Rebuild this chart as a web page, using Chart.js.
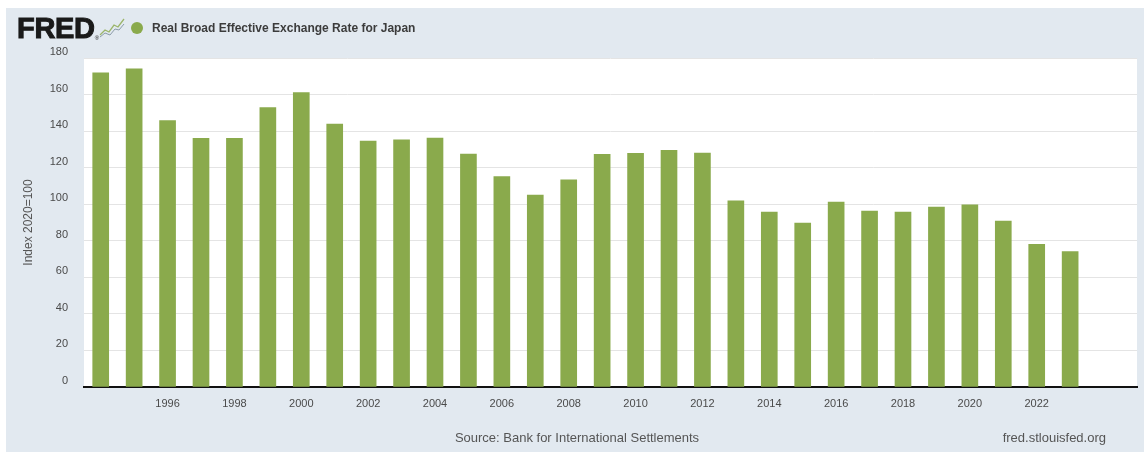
<!DOCTYPE html>
<html>
<head>
<meta charset="utf-8">
<script src="https://cdn.jsdelivr.net/npm/chart.js@4/dist/chart.umd.min.js"></script>
<style>
  html, body { margin: 0; padding: 0; background: #ffffff; }
  body { width: 1144px; height: 454px; position: relative; overflow: hidden;
         font-family: "Liberation Sans", Arial, sans-serif; }
  #panel { position: absolute; left: 6px; top: 8px; width: 1138px; height: 444px; background: #e2e9f0; }
  #wrap { position: absolute; left: 0; top: 0; width: 1144px; height: 454px; }
  .logo { position: absolute; left: 17px; top: 11px; font-size: 29px; font-weight: 700;
          color: #1a1a1a; letter-spacing: -0.3px; line-height: 34px;
          -webkit-text-stroke: 1px #1a1a1a; }
  .logo sup { font-size: 6px; font-weight: 400; -webkit-text-stroke: 0; position: relative; top: 2px; vertical-align: baseline; }
  .icon { position: absolute; left: 99px; top: 16px; }
  .dot { position: absolute; left: 131px; top: 22px; width: 12px; height: 12px; border-radius: 50%; background: #8aaa4c; }
  .legend { position: absolute; left: 152px; top: 20px; font-size: 12px; font-weight: 700; color: #3c3c3c; line-height: 16px; }
  .source { position: absolute; left: 0; width: 1154px; top: 430px; text-align: center; font-size: 13px; color: #555; line-height: 16px; }
  .site { position: absolute; right: 38px; top: 430px; font-size: 13px; color: #555; line-height: 16px; }
</style>
</head>
<body>
<div id="panel"></div>
<div id="wrap"><canvas id="chart" width="1144" height="454"></canvas></div>
<div class="logo">FRED<sup>®</sup></div>
<svg class="icon" width="26" height="22" viewBox="0 0 26 22">
  <polyline points="1,19 6,14 10,16 15,9 19,11 25,3" fill="none" stroke="#9bb56a" stroke-width="1.3"/>
  <polyline points="1,21 6,17 11,19 16,13 20,14 25,8" fill="none" stroke="#8a9aa8" stroke-width="1"/>
</svg>
<div class="dot"></div>
<div class="legend">Real Broad Effective Exchange Rate for Japan</div>
<div class="source">Source: Bank for International Settlements</div>
<div class="site">fred.stlouisfed.org</div>
<script>
// Annual observations, index 2020=100
const years = [1994, 1995, 1996, 1997, 1998, 1999, 2000, 2001, 2002, 2003,
               2004, 2005, 2006, 2007, 2008, 2009, 2010, 2011, 2012, 2013,
               2014, 2015, 2016, 2017, 2018, 2019, 2020, 2021, 2022, 2023];
const rateIndex = [171.9, 174.1, 145.8, 136.1, 136.1, 152.9, 161.1, 143.9, 134.6, 135.2,
                   136.2, 127.4, 115.1, 105.0, 113.4, 127.3, 127.9, 129.5, 128.0, 101.9,
                   95.7, 89.7, 101.2, 96.3, 95.7, 98.5, 99.7, 90.8, 78.0, 74.1];
const xTickYears = [1996, 1998, 2000, 2002, 2004, 2006, 2008, 2010, 2012, 2014,
                    2016, 2018, 2020, 2022];
const yTickValues = [0, 20, 40, 60, 80, 100, 120, 140, 160, 180];

const seriesName = 'Real Broad Effective Exchange Rate for Japan';
const barColor = '#8aaa4c';

// White plotting area behind the bars
const plotBackground = {
  id: 'plotBackground',
  beforeDraw(chart) {
    const { ctx, chartArea: a } = chart;
    ctx.save();
    ctx.fillStyle = '#ffffff';
    ctx.fillRect(a.left, a.top, a.right - a.left, a.bottom - a.top);
    ctx.restore();
  }
};

const tickFont = { family: '"Liberation Sans", Arial, sans-serif', size: 11 };

new Chart(document.getElementById('chart'), {
  type: 'bar',
  data: {
    datasets: [{
      label: seriesName,
      data: years.map((y, i) => ({ x: y, y: rateIndex[i] })),
      backgroundColor: barColor,
      borderWidth: 0,
      barThickness: 16
    }]
  },
  options: {
    responsive: false,
    animation: false,
    layout: { padding: { top: 58, right: 7, left: 0, bottom: 0 } },
    plugins: { legend: { display: false }, tooltip: { enabled: false } },
    scales: {
      x: {
        type: 'linear',
        offset: false,
        min: 1993.5,
        max: 2025,
        afterBuildTicks: s => { s.ticks = xTickYears.map(v => ({ value: v })); },
        afterFit: s => { s.height = 67; },
        ticks: {
          callback: v => String(v),
          font: tickFont,
          color: '#4a4a4a',
          padding: 10,
          maxRotation: 0,
          autoSkip: false
        },
        grid: { display: false, drawTicks: false },
        border: { display: true, color: '#111111', width: 2 }
      },
      y: {
        min: 0,
        max: 180,
        afterBuildTicks: s => { s.ticks = yTickValues.map(v => ({ value: v })); },
        afterFit: s => { s.width = 84; },
        ticks: {
          font: tickFont,
          color: '#4a4a4a',
          padding: 16,
          labelOffset: -6
        },
        grid: { color: '#e4e4e4', lineWidth: 1, drawTicks: false },
        border: { display: false },
        title: {
          display: true,
          text: 'Index 2020=100',
          color: '#555555',
          font: { family: '"Liberation Sans", Arial, sans-serif', size: 12 },
          padding: { top: 21, bottom: 0 }
        }
      }
    }
  },
  plugins: [plotBackground]
});
</script>
</body>
</html>
